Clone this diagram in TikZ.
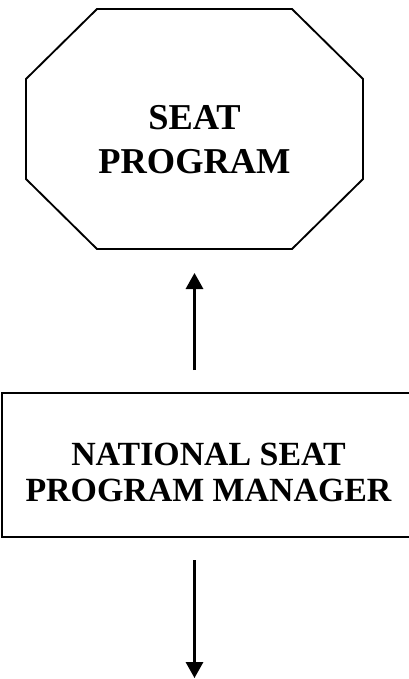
\documentclass[tikz,border=0pt]{standalone}
\usepackage{fontspec}
\setmainfont{Liberation Serif}
\usetikzlibrary{positioning,arrows.meta}

\begin{document}
\begin{tikzpicture}[x=0.75pt, y=-0.75pt, auto,
		frame/.style={rectangle, minimum width=252.75pt, minimum height=180pt, inner sep=0pt, outer sep=0pt},
		octaline/.style={line width=1.4pt, line join=miter},
		box/.style={rectangle, draw, line width=1.7pt, minimum width=309.75pt, minimum height=108pt, inner sep=0pt, outer sep=0pt},
		bigtext/.style={align=center, font=\fontsize{27.3}{33}\selectfont\bfseries},
		boxtext/.style={align=center, font=\fontsize{25.4}{27}\selectfont\bfseries},
		link/.style={-{Triangle[length=12pt,width=13pt]}, line width=1.6pt}]
			\useasboundingbox (0,0) rectangle (409,679);
			\node[frame] (prog) at (194.5,129) {};
			\node[box] (mgr) [below=108pt of prog, xshift=10.5pt] {};
			\node[bigtext] (progtxt) at ([yshift=-7.9pt]prog.center) {SEAT\\PROGRAM};
			\node[boxtext] (mgrtxt) at ([yshift=-5.25pt]mgr.center) {NATIONAL SEAT\\PROGRAM MANAGER};
			\coordinate (out) at (prog.south |- 0,678);

			% octagon round the program
			\draw[octaline] ([xshift=53.25pt]prog.north west) -- ([xshift=-53.25pt]prog.north east)
				-- ([yshift=-52.5pt]prog.north east) -- ([yshift=52.5pt]prog.south east)
				-- ([xshift=-53.25pt]prog.south east) -- ([xshift=53.25pt]prog.south west)
				-- ([yshift=52.5pt]prog.south west) -- ([yshift=-52.5pt]prog.north west) -- cycle;

			\draw[link, shorten <=17.25pt, shorten >=18pt] (prog.south |- mgr.north) -- (prog.south);
			\draw[link, shorten <=17.25pt] (prog.south |- mgr.south) -- (out);
		\end{tikzpicture}
\end{document}
